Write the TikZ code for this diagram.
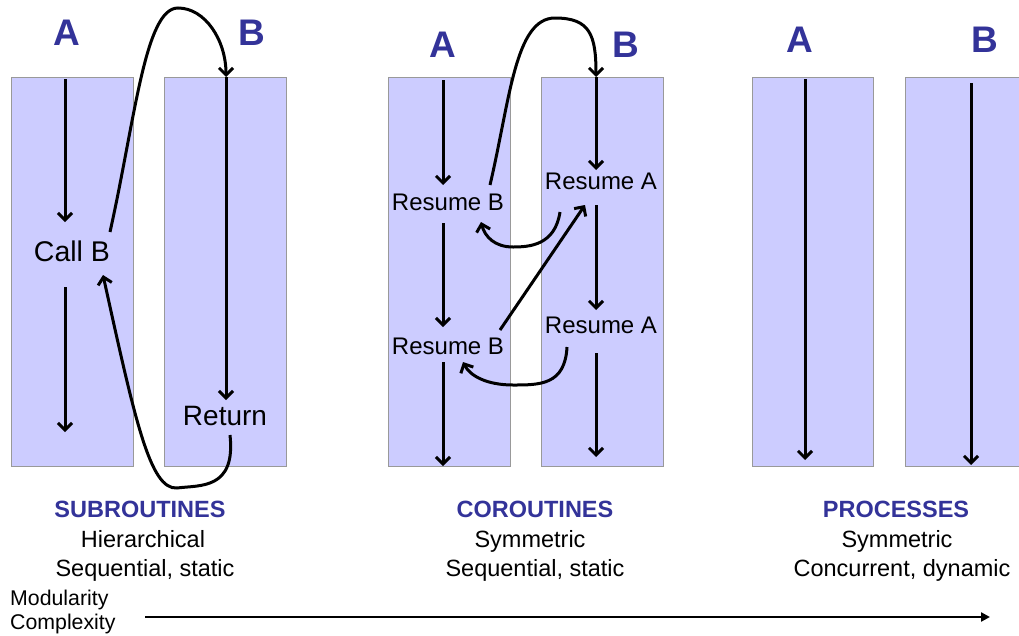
\documentclass[tikz,border=0pt]{standalone}
\usepackage{fontspec}
\setmainfont{Liberation Sans}
\usetikzlibrary{arrows.meta}
\definecolor{lanefill}{HTML}{CCCCFF}
\definecolor{laneedge}{HTML}{999999}
\definecolor{headblue}{HTML}{333399}

\begin{document}
\begin{tikzpicture}[x=1pt, y=-1pt,
    lane/.style = {rectangle, draw=laneedge, line width=0.8pt,
                   fill=lanefill,
                   minimum width=122pt, minimum height=389pt,
                   inner sep=0pt, outer sep=0pt},
    who/.style = {text=headblue, inner sep=0pt,
                  font=\fontsize{37}{37}\selectfont\bfseries},
    act/.style = {inner sep=0pt, font=\fontsize{#1}{#1}\selectfont},
    kindname/.style = {text=headblue, inner sep=0pt, anchor=base,
                       font=\fontsize{23.5}{23.5}\selectfont\bfseries},
    kindtext/.style = {inner sep=0pt, anchor=base,
                       font=\fontsize{23.5}{23.5}\selectfont},
    axistext/.style = {inner sep=0pt, anchor=base west,
                       font=\fontsize{21.3}{21.3}\selectfont},
    flow/.style = {line width=3pt,
                   -{Straight Barb[length=7pt,width=14pt]}}
                    ]

    \useasboundingbox (0,0) rectangle (1019,635);
    \clip (0,0) rectangle (1019,635);

    % the six lanes
    \node (subA) [lane] at (72,271.5)  {};
    \node (subB) [lane] at (225,271.5) {};
    \node (coA)  [lane] at (449,272)   {};
    \node (coB)  [lane] at (602,272)   {};
    \node (proA) [lane, minimum width=121pt] at (812.5,271.5) {};
    \node (proB) [lane] at (966,271.5) {};

    \node (subAname) [who] at (67,33)  {A};
    \node (subBname) [who] at (252,33) {B};
    \node (coAname)  [who] at (443,45) {A};
    \node (coBname)  [who] at (626,45) {B};
    \node (proAname) [who] at (800,40) {A};
    \node (proBname) [who] at (985,40) {B};

    % subroutines
    \node (callB)  [act=28.5] at (72,251)  {Call B};
    \node (return) [act=28] at (225,416) {Return};
    \coordinate (sA0) at (65,79);
    \coordinate (sA1) at (65,222);
    \coordinate (sA2) at (65,287);
    \coordinate (sA3) at (65,432);
    \coordinate (sB0) at (226,77);
    \coordinate (sB1) at (226,400);
    \coordinate (callOut) at (110,232);
    \coordinate (callIn)  at (103,275);
    \coordinate (retOut)  at (230,435);
    \draw[flow] (sA0) -- (sA1);
    \draw[flow] (sA2) -- (sA3);
    \draw[flow] (sB0) -- (sB1);
    \draw[flow] (callOut) .. controls (135,120) and (145,8) .. (178,8)
                          .. controls (205,8) and (226,40) .. (sB0);
    \draw[flow] (retOut) .. controls (236,490) and (200,485) .. (177,488)
                         .. controls (150,490) and (135,420) .. (callIn);

    % coroutines
    \node (resB1) [act=24] at (448,202) {Resume B};
    \node (resB2) [act=24] at (448,346) {Resume B};
    \node (resA1) [act=24] at (601,181) {Resume A};
    \node (resA2) [act=24] at (601,325) {Resume A};
    \coordinate (cA0) at (443,80);
    \coordinate (cA1) at (443,185);
    \coordinate (cA2) at (443,223);
    \coordinate (cA3) at (443,327);
    \coordinate (cA4) at (443,362);
    \coordinate (cA5) at (443,466);
    \coordinate (cB0) at (596,77);
    \coordinate (cB1) at (596,170);
    \coordinate (cB2) at (596,205);
    \coordinate (cB3) at (596,310);
    \coordinate (cB4) at (596,353);
    \coordinate (cB5) at (596,457);
    \draw[flow] (cA0) -- (cA1);
    \draw[flow] (cA2) -- (cA3);
    \draw[flow] (cA4) -- (cA5);
    \draw[flow] (cB0) -- (cB1);
    \draw[flow] (cB2) -- (cB3);
    \draw[flow] (cB4) -- (cB5);
    \coordinate (rB1out) at (490,185);
    \coordinate (rB1in)  at (481,222);
    \coordinate (rB2out) at (500,330);
    \coordinate (rB2in)  at (463,362);
    \coordinate (rA1out) at (560,212);
    \coordinate (rA1in)  at (585,205);
    \coordinate (rA2out) at (567,347);
    \draw[flow] (rB1out) .. controls (510,100) and (515,18) .. (555,18)
                         .. controls (590,18) and (596,35) .. (cB0);
    \draw[flow] (rA1out) .. controls (555,245) and (530,247) .. (513,247)
                         .. controls (495,247) and (485,237) .. (rB1in);
    \draw[flow] (rB2out) -- (rA1in);
    \draw[flow] (rA2out) .. controls (565,385) and (540,385) .. (513,385)
                         .. controls (487,385) and (470,376) .. (rB2in);

    % processes
    \coordinate (pA0) at (805,79);
    \coordinate (pA1) at (805,460);
    \coordinate (pB0) at (971,83);
    \coordinate (pB1) at (971,465);
    \draw[flow] (pA0) -- (pA1);
    \draw[flow] (pB0) -- (pB1);

    % captions
    \node (subKind)  [kindname] at (140,517.5) {SUBROUTINES};
    \node (subHow)   [kindtext] at (143,547.5) {Hierarchical};
    \node (subWhen)  [kindtext] at (145,576.5) {Sequential, static};
    \node (coKind)   [kindname] at (535,517.5) {COROUTINES};
    \node (coHow)    [kindtext] at (530,547.5) {Symmetric};
    \node (coWhen)   [kindtext] at (535,576.5) {Sequential, static};
    \node (proKind)  [kindname] at (896,517.5) {PROCESSES};
    \node (proHow)   [kindtext] at (897,547.5) {Symmetric};
    \node (proWhen)  [kindtext] at (902,576.5) {Concurrent, dynamic};

    \node (modular) [axistext] at (10,605) {Modularity};
    \node (complex) [axistext] at (10,629) {Complexity};
    \coordinate (axis0) at (145,617);
    \coordinate (axis1) at (990,617);
    \draw[line width=2.6pt, -{Triangle[length=9pt,width=9pt]}] (axis0) -- (axis1);
\end{tikzpicture}
\end{document}
